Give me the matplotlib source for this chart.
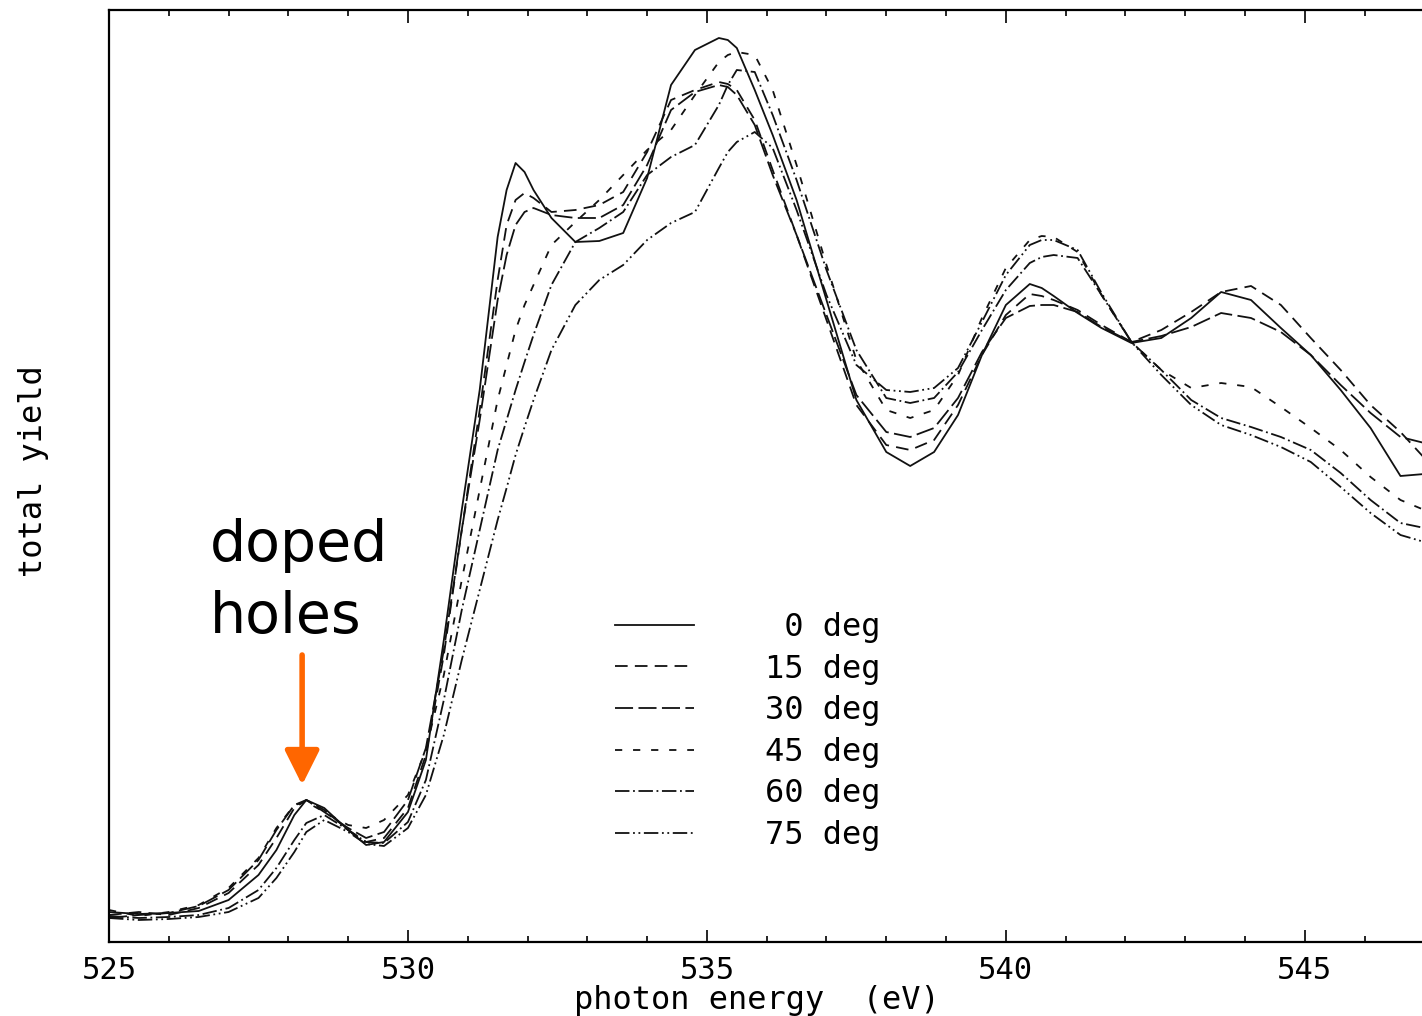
import matplotlib
matplotlib.use('Agg')
import matplotlib.pyplot as plt

# photon energy grid (eV)
energy = [525.0, 525.5, 526.0, 526.5, 527.0, 527.5, 527.8, 528.1, 528.3, 528.6,
          529.0, 529.3, 529.6, 530.0, 530.3, 530.6, 530.9, 531.2, 531.5, 531.65,
          531.8, 531.95, 532.1, 532.4, 532.8, 533.2, 533.6, 534.0, 534.4, 534.8,
          535.2, 535.35, 535.5, 535.8, 536.1, 536.5, 537.0, 537.5, 538.0, 538.4,
          538.8, 539.2, 539.6, 540.0, 540.4, 540.6, 540.8, 541.2, 541.6, 542.1,
          542.6, 543.1, 543.6, 544.1, 544.6, 545.1, 545.6, 546.1, 546.6, 547.0]

# total yield (arb. units) for each incidence angle
y_0 = [30, 28, 29, 31, 42, 67, 92, 127, 142, 134, 112, 97, 100, 130, 182, 302,
       432, 552, 705, 752, 779, 770, 752, 724, 700, 701, 709, 764, 857, 892,
       904, 902, 894, 852, 807, 742, 642, 542, 490, 476, 490, 527, 587, 637,
       658, 654, 646, 629, 614, 599, 604, 624, 650, 642, 614, 587, 552, 514,
       466, 468]
y_15 = [27, 30, 27, 34, 49, 77, 104, 134, 142, 132, 112, 100, 104, 134, 187,
        287, 412, 532, 662, 717, 742, 749, 744, 730, 732, 737, 750, 790, 842,
        852, 860, 858, 852, 822, 772, 707, 622, 537, 497, 492, 502, 537, 587,
        627, 648, 646, 642, 632, 617, 600, 612, 630, 650, 656, 637, 604, 572,
        537, 510, 484]
y_30 = [24, 27, 29, 36, 52, 82, 112, 137, 142, 130, 114, 104, 110, 142, 194,
        292, 412, 522, 642, 687, 717, 730, 734, 727, 724, 724, 737, 777, 832,
        850, 857, 855, 847, 817, 767, 707, 627, 547, 510, 505, 514, 544, 590,
        624, 636, 637, 637, 630, 615, 600, 606, 615, 629, 624, 610, 587, 557,
        529, 505, 499]
y_45 = [32, 26, 30, 37, 54, 84, 114, 137, 140, 130, 117, 114, 122, 147, 192,
        267, 362, 452, 542, 577, 612, 637, 657, 697, 720, 742, 767, 792, 812,
        847, 880, 887, 890, 887, 852, 777, 677, 582, 532, 524, 532, 567, 624,
        674, 702, 706, 705, 690, 647, 600, 572, 554, 559, 555, 535, 514, 492,
        465, 442, 432]
y_60 = [26, 24, 25, 27, 34, 52, 74, 102, 119, 127, 112, 100, 99, 120, 162,
        242, 332, 412, 492, 522, 552, 580, 607, 657, 700, 714, 730, 767, 785,
        797, 837, 857, 872, 870, 827, 762, 672, 592, 544, 539, 544, 570, 612,
        652, 679, 685, 687, 684, 647, 600, 572, 542, 524, 515, 505, 492, 469,
        442, 419, 414]
y_75 = [24, 22, 23, 25, 30, 44, 64, 90, 110, 122, 110, 98, 96, 114, 147,
        207, 282, 352, 422, 454, 487, 515, 542, 592, 637, 662, 677, 702, 719,
        730, 774, 790, 800, 810, 794, 732, 647, 577, 552, 550, 554, 574, 620,
        667, 697, 702, 702, 692, 649, 600, 567, 537, 517, 507, 495, 480, 455,
        429, 407, 400]

labels = [' 0 deg', '15 deg', '30 deg', '45 deg', '60 deg', '75 deg']
curves = [y_0, y_15, y_30, y_45, y_60, y_75]
styles = ['-', (0, (7, 4)), (0, (10, 3)), (0, (4, 6)),
          (0, (8, 2, 1, 2)), (0, (8, 2, 1, 2, 1, 2))]

mono = 'DejaVu Sans Mono'

fig = plt.figure(figsize=(14.22, 10.16), dpi=100)
ax = fig.add_axes([109 / 1422, 74 / 1016, 1313 / 1422, 932 / 1016])

for y, lab, ls in zip(curves, labels, styles):
    ax.plot(energy, y, color='#111111', lw=1.3, ls=ls, label=lab)

ax.set_xlim(525, 546.96)
ax.set_ylim(0, 932)
ax.spines['right'].set_visible(False)
for s in ['left', 'top', 'bottom']:
    ax.spines[s].set_linewidth(1.6)

ax.set_xticks([525, 530, 535, 540, 545])
ax.set_xticks(range(526, 547), minor=True)
ax.set_yticks([])
ax.tick_params(axis='x', which='major', direction='in', top=True,
               length=9, width=1.2, pad=10, labelsize=22)
ax.tick_params(axis='x', which='minor', direction='in', top=True,
               length=4, width=1.2)
for t in ax.get_xticklabels():
    t.set_family(mono)

ax.set_xlabel('photon energy  (eV)', family=mono, fontsize=23)
ax.xaxis.set_label_coords(0.4935, -0.046)
ax.set_ylabel('total yield', family=mono, fontsize=23)
ax.yaxis.set_label_coords(-0.046, 0.505)

ax.legend(loc='upper left', bbox_to_anchor=(0.385, 0.354), frameon=False,
          prop={'family': mono, 'size': 23}, handlelength=2.5,
          handletextpad=2.2, labelspacing=0.33, borderpad=0, borderaxespad=0)

ax.text(526.69, 424, 'doped\nholes', fontsize=41, va='top', ha='left',
        linespacing=1.4)
ax.annotate('', xy=(528.23, 157), xytext=(528.23, 287),
            arrowprops=dict(arrowstyle='-|>,head_length=0.6,head_width=0.3',
                            color='#ff6600', lw=4, mutation_scale=35,
                            shrinkA=0, shrinkB=0))

fig.savefig('out.png', dpi=100)
